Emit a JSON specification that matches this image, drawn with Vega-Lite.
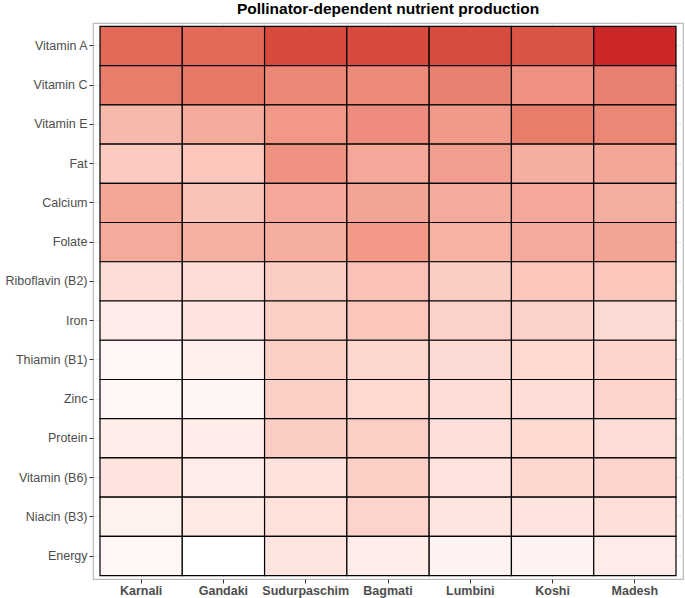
{
  "$schema": "https://vega.github.io/schema/vega-lite/v6.json",
  "autosize": "none",
  "padding": {"left": 93, "top": 23, "right": 2, "bottom": 19},
  "width": 590,
  "height": 556,
  "title": {"text": "Pollinator-dependent nutrient production", "font": "Liberation Sans", "fontSize": 15.5, "fontWeight": "bold", "color": "#000000", "anchor": "middle", "offset": 6},
  "config": {
    "view": {"stroke": "#BBBBBB", "strokeWidth": 1.2},
    "font": "Liberation Sans"
  },
  "data": {"values": [
    {"nutrient": "Vitamin A", "province": "Karnali", "v": 75},
    {"nutrient": "Vitamin A", "province": "Gandaki", "v": 74},
    {"nutrient": "Vitamin A", "province": "Sudurpaschim", "v": 88},
    {"nutrient": "Vitamin A", "province": "Bagmati", "v": 88},
    {"nutrient": "Vitamin A", "province": "Lumbini", "v": 87},
    {"nutrient": "Vitamin A", "province": "Koshi", "v": 84},
    {"nutrient": "Vitamin A", "province": "Madesh", "v": 100},
    {"nutrient": "Vitamin C", "province": "Karnali", "v": 65},
    {"nutrient": "Vitamin C", "province": "Gandaki", "v": 67},
    {"nutrient": "Vitamin C", "province": "Sudurpaschim", "v": 60},
    {"nutrient": "Vitamin C", "province": "Bagmati", "v": 58},
    {"nutrient": "Vitamin C", "province": "Lumbini", "v": 64},
    {"nutrient": "Vitamin C", "province": "Koshi", "v": 55},
    {"nutrient": "Vitamin C", "province": "Madesh", "v": 64},
    {"nutrient": "Vitamin E", "province": "Karnali", "v": 35},
    {"nutrient": "Vitamin E", "province": "Gandaki", "v": 42},
    {"nutrient": "Vitamin E", "province": "Sudurpaschim", "v": 52},
    {"nutrient": "Vitamin E", "province": "Bagmati", "v": 57},
    {"nutrient": "Vitamin E", "province": "Lumbini", "v": 51},
    {"nutrient": "Vitamin E", "province": "Koshi", "v": 65},
    {"nutrient": "Vitamin E", "province": "Madesh", "v": 60},
    {"nutrient": "Fat", "province": "Karnali", "v": 26},
    {"nutrient": "Fat", "province": "Gandaki", "v": 28},
    {"nutrient": "Fat", "province": "Sudurpaschim", "v": 55},
    {"nutrient": "Fat", "province": "Bagmati", "v": 44},
    {"nutrient": "Fat", "province": "Lumbini", "v": 49},
    {"nutrient": "Fat", "province": "Koshi", "v": 41},
    {"nutrient": "Fat", "province": "Madesh", "v": 45},
    {"nutrient": "Calcium", "province": "Karnali", "v": 45},
    {"nutrient": "Calcium", "province": "Gandaki", "v": 30},
    {"nutrient": "Calcium", "province": "Sudurpaschim", "v": 44},
    {"nutrient": "Calcium", "province": "Bagmati", "v": 46},
    {"nutrient": "Calcium", "province": "Lumbini", "v": 42},
    {"nutrient": "Calcium", "province": "Koshi", "v": 44},
    {"nutrient": "Calcium", "province": "Madesh", "v": 41},
    {"nutrient": "Folate", "province": "Karnali", "v": 43},
    {"nutrient": "Folate", "province": "Gandaki", "v": 40},
    {"nutrient": "Folate", "province": "Sudurpaschim", "v": 41},
    {"nutrient": "Folate", "province": "Bagmati", "v": 52},
    {"nutrient": "Folate", "province": "Lumbini", "v": 39},
    {"nutrient": "Folate", "province": "Koshi", "v": 43},
    {"nutrient": "Folate", "province": "Madesh", "v": 46},
    {"nutrient": "Riboflavin (B2)", "province": "Karnali", "v": 17},
    {"nutrient": "Riboflavin (B2)", "province": "Gandaki", "v": 17},
    {"nutrient": "Riboflavin (B2)", "province": "Sudurpaschim", "v": 25},
    {"nutrient": "Riboflavin (B2)", "province": "Bagmati", "v": 31},
    {"nutrient": "Riboflavin (B2)", "province": "Lumbini", "v": 25},
    {"nutrient": "Riboflavin (B2)", "province": "Koshi", "v": 28},
    {"nutrient": "Riboflavin (B2)", "province": "Madesh", "v": 28},
    {"nutrient": "Iron", "province": "Karnali", "v": 10},
    {"nutrient": "Iron", "province": "Gandaki", "v": 14},
    {"nutrient": "Iron", "province": "Sudurpaschim", "v": 24},
    {"nutrient": "Iron", "province": "Bagmati", "v": 28},
    {"nutrient": "Iron", "province": "Lumbini", "v": 23},
    {"nutrient": "Iron", "province": "Koshi", "v": 23},
    {"nutrient": "Iron", "province": "Madesh", "v": 18},
    {"nutrient": "Thiamin (B1)", "province": "Karnali", "v": 4},
    {"nutrient": "Thiamin (B1)", "province": "Gandaki", "v": 8},
    {"nutrient": "Thiamin (B1)", "province": "Sudurpaschim", "v": 24},
    {"nutrient": "Thiamin (B1)", "province": "Bagmati", "v": 20},
    {"nutrient": "Thiamin (B1)", "province": "Lumbini", "v": 18},
    {"nutrient": "Thiamin (B1)", "province": "Koshi", "v": 19},
    {"nutrient": "Thiamin (B1)", "province": "Madesh", "v": 21},
    {"nutrient": "Zinc", "province": "Karnali", "v": 4},
    {"nutrient": "Zinc", "province": "Gandaki", "v": 5},
    {"nutrient": "Zinc", "province": "Sudurpaschim", "v": 24},
    {"nutrient": "Zinc", "province": "Bagmati", "v": 19},
    {"nutrient": "Zinc", "province": "Lumbini", "v": 17},
    {"nutrient": "Zinc", "province": "Koshi", "v": 17},
    {"nutrient": "Zinc", "province": "Madesh", "v": 22},
    {"nutrient": "Protein", "province": "Karnali", "v": 9},
    {"nutrient": "Protein", "province": "Gandaki", "v": 10},
    {"nutrient": "Protein", "province": "Sudurpaschim", "v": 25},
    {"nutrient": "Protein", "province": "Bagmati", "v": 24},
    {"nutrient": "Protein", "province": "Lumbini", "v": 16},
    {"nutrient": "Protein", "province": "Koshi", "v": 19},
    {"nutrient": "Protein", "province": "Madesh", "v": 17},
    {"nutrient": "Vitamin (B6)", "province": "Karnali", "v": 14},
    {"nutrient": "Vitamin (B6)", "province": "Gandaki", "v": 9},
    {"nutrient": "Vitamin (B6)", "province": "Sudurpaschim", "v": 15},
    {"nutrient": "Vitamin (B6)", "province": "Bagmati", "v": 24},
    {"nutrient": "Vitamin (B6)", "province": "Lumbini", "v": 14},
    {"nutrient": "Vitamin (B6)", "province": "Koshi", "v": 20},
    {"nutrient": "Vitamin (B6)", "province": "Madesh", "v": 21},
    {"nutrient": "Niacin (B3)", "province": "Karnali", "v": 7},
    {"nutrient": "Niacin (B3)", "province": "Gandaki", "v": 11},
    {"nutrient": "Niacin (B3)", "province": "Sudurpaschim", "v": 15},
    {"nutrient": "Niacin (B3)", "province": "Bagmati", "v": 22},
    {"nutrient": "Niacin (B3)", "province": "Lumbini", "v": 13},
    {"nutrient": "Niacin (B3)", "province": "Koshi", "v": 14},
    {"nutrient": "Niacin (B3)", "province": "Madesh", "v": 16},
    {"nutrient": "Energy", "province": "Karnali", "v": 4},
    {"nutrient": "Energy", "province": "Gandaki", "v": 0},
    {"nutrient": "Energy", "province": "Sudurpaschim", "v": 13},
    {"nutrient": "Energy", "province": "Bagmati", "v": 9},
    {"nutrient": "Energy", "province": "Lumbini", "v": 6},
    {"nutrient": "Energy", "province": "Koshi", "v": 6},
    {"nutrient": "Energy", "province": "Madesh", "v": 10}
  ]},
  "mark": {"type": "rect", "stroke": "#000000", "strokeWidth": 1.2},
  "encoding": {
    "x": {
      "field": "province", "type": "nominal",
      "sort": ["Karnali", "Gandaki", "Sudurpaschim", "Bagmati", "Lumbini", "Koshi", "Madesh"],
      "scale": {"paddingInner": 0, "paddingOuter": 0.085},
      "axis": {"title": null, "zindex": 0, "labelAngle": 0, "labelFont": "Liberation Sans", "labelFontSize": 12.5, "labelFontWeight": "bold", "labelColor": "#4D4D4D", "labelPadding": 1, "tickColor": "#333333", "tickSize": 4, "domain": false, "grid": true, "gridColor": "#EBEBEB", "bandPosition": 0.5}
    },
    "y": {
      "field": "nutrient", "type": "nominal",
      "sort": ["Vitamin A", "Vitamin C", "Vitamin E", "Fat", "Calcium", "Folate", "Riboflavin (B2)", "Iron", "Thiamin (B1)", "Zinc", "Protein", "Vitamin (B6)", "Niacin (B3)", "Energy"],
      "scale": {"paddingInner": 0, "paddingOuter": 0.085},
      "axis": {"title": null, "zindex": 0, "labelFont": "Liberation Sans", "labelFontSize": 12.5, "labelColor": "#4D4D4D", "labelPadding": 2, "tickColor": "#333333", "tickSize": 4, "domain": false, "grid": true, "gridColor": "#EBEBEB", "bandPosition": 0.5}
    },
    "fill": {
      "field": "v", "type": "quantitative",
      "scale": {"domain": [0, 100], "range": ["#FFFFFF", "#CD2626"], "interpolate": "lab"},
      "legend": null
    }
  }
}
